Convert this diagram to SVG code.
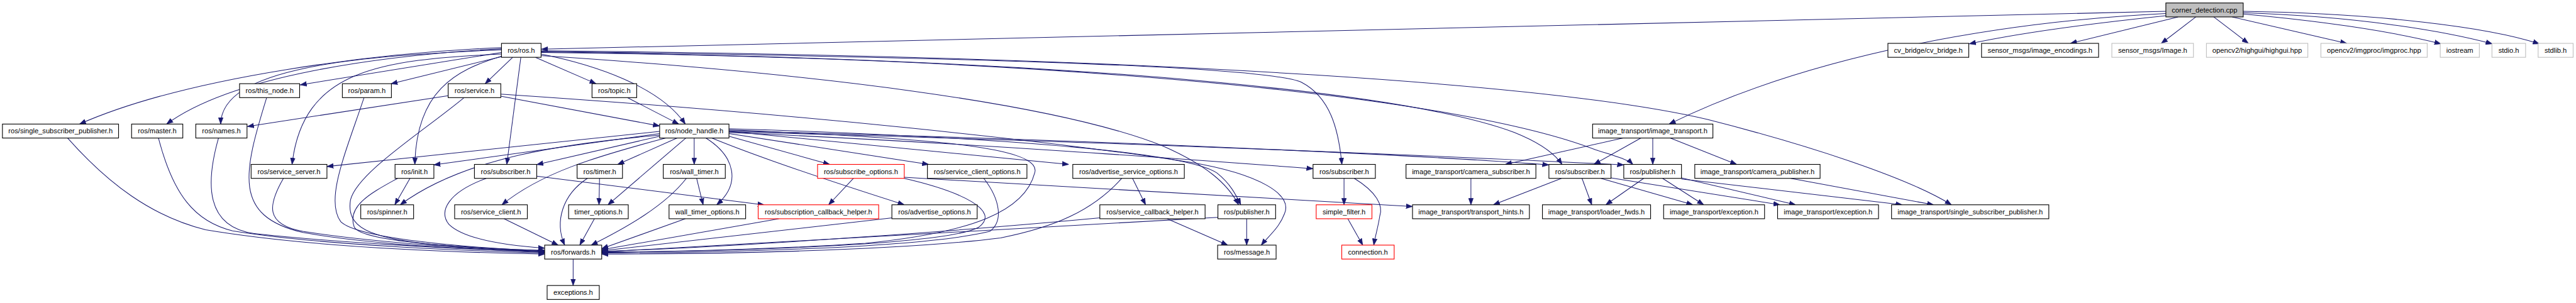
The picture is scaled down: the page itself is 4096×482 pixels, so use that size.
<svg xmlns="http://www.w3.org/2000/svg" width="4096" height="482" viewBox="0 0 4096 482">
<style>
.n rect{fill:#fff;stroke:#000;stroke-width:1.3}
.n.r rect{stroke:#ff0000}
.n.g rect{stroke:#bfbfbf}
.n.c rect{fill:#bfbfbf}
.n text{font-family:"Liberation Sans",Arial,sans-serif;font-size:13px;text-anchor:middle;fill:#000}
.e path{fill:none;stroke:#191970;stroke-width:1.2;marker-end:url(#a)}
</style>
<defs>
<marker id="a" markerWidth="12" markerHeight="10" refX="12" refY="5" orient="auto" markerUnits="userSpaceOnUse">
<path d="M0,0.6 L12,5 L0,9.4 z" fill="#191970" stroke="#191970" stroke-width="0.8"/>
</marker>
</defs>
<rect width="4096" height="482" fill="#fff"/>
<g transform="scale(0.86)">
<g id="edges" class="e">
<path d="M4004.5,21 L1001,91"/>
<path d="M4004.5,25 C3700,40 3350,100 3086,229.5"/>
<path d="M4004.5,29 C3850,45 3720,64 3641,81"/>
<path d="M4027,31.3 L3828,80.2"/>
<path d="M4060,31.3 L3996,80.2"/>
<path d="M4093,31.3 L4157,80.2"/>
<path d="M4127,31.3 L4339,80.2"/>
<path d="M4147.5,26 C4300,40 4430,60 4513,81"/>
<path d="M4147.5,23.5 C4350,30 4510,55 4608,81"/>
<path d="M4147.5,21 C4400,25 4600,50 4695,81"/>
<path d="M927.2,88 C700,98 350,140 147,229.5"/>
<path d="M927.2,90 C700,103 430,140 308,229.5"/>
<path d="M927.2,92 C650,104 410,125 408,229.5"/>
<path d="M927.2,97 L555,157"/>
<path d="M927.2,100 C700,110 560,130 540,304.1"/>
<path d="M930,104 L723,155"/>
<path d="M948,106 L897,154.8"/>
<path d="M963,106 L937,304.1"/>
<path d="M927.2,104 C840,130 770,170 767,304.1"/>
<path d="M990,106 L1102,154.8"/>
<path d="M1000.4,100 C1100,120 1220,160 1267,229.5"/>
<path d="M1000.4,103 C1500,135 1950,190 2150,270 C2230,305 2270,340 2290,378.8"/>
<path d="M1000.4,95 C1700,105 2330,120 2406,152 C2460,180 2475,240 2481,304.1"/>
<path d="M1000.4,96 C2000,110 2600,170 2800,245 C2850,265 2875,285 2888,304.1"/>
<path d="M1000.4,97 C2000,108 2700,180 2950,277 C2990,290 3010,295 3019,304.1"/>
<path d="M1000.4,94 C2200,105 2900,160 3157,221 C3350,270 3530,330 3608,378.8"/>
<path d="M828.6,177 L457.5,234"/>
<path d="M925.9,178 L1219.6,233"/>
<path d="M858,180.6 C780,245 660,320 648,370 C640,420 680,440 800,452 C900,460 960,463 1007,465"/>
<path d="M925.9,174 C1500,212 1950,262 2200,300 C2330,322 2390,360 2375,395 C2365,422 2345,437 2332,453.4"/>
<path d="M1160,180.6 L1255,229.5"/>
<path d="M493,180.6 C450,320 430,400 560,430 C700,455 900,462 1007,466"/>
<path d="M673,180.6 C640,280 600,370 630,410 C660,440 850,458 1007,464"/>
<path d="M404,255.3 C380,340 380,420 470,432 C650,452 900,462 1007,467"/>
<path d="M293,255.3 C320,360 360,410 430,427 C600,455 900,465 1007,468"/>
<path d="M125,255.3 C200,340 280,400 380,425 C600,462 900,468 1007,470"/>
<path d="M524,329.9 C495,380 490,415 560,428 C700,450 900,462 1007,465"/>
<path d="M758,329.9 L730,378.8"/>
<path d="M735,329.9 C690,355 640,380 655,420 C670,450 900,460 1007,463"/>
<path d="M1219.6,243 L604.5,308"/>
<path d="M1219.6,247 L802.2,305"/>
<path d="M1219.6,250 C1050,265 860,290 740,378.8"/>
<path d="M1219.6,252 L992.4,304.5"/>
<path d="M1231,255.3 C1100,290 1000,320 928,378.8"/>
<path d="M1252,255.3 L1142,304.1"/>
<path d="M1268,255.3 L1124,378.8"/>
<path d="M1283.5,255.3 L1283.5,304.1"/>
<path d="M1305,255.3 C1360,290 1370,340 1325,378.8"/>
<path d="M1316,255.3 C1400,290 1550,340 1672,378.8"/>
<path d="M1347.8,252 L1534,304.1"/>
<path d="M1347.8,247 L1717,304.1"/>
<path d="M1347.8,243 L1976,304.1"/>
<path d="M1347.8,240 C1700,255 1930,270 1913,320 C1895,390 1800,430 1600,450 C1400,463 1200,466 1112.5,467"/>
<path d="M1347.8,238 C1900,255 2200,285 2250,320 C2275,340 2285,360 2294,378.8"/>
<path d="M1347.8,245 C1800,265 2200,295 2427.7,312"/>
<path d="M1347.8,242 C2000,258 2600,285 2863.8,305"/>
<path d="M1347.8,244 C2000,260 2700,290 3002.2,305"/>
<path d="M899,329.9 C830,355 810,390 830,415 C860,445 950,455 1007,459"/>
<path d="M992.4,326 L1413,379"/>
<path d="M1108.5,329.9 L1107.5,378.8"/>
<path d="M1086,329.9 C1040,360 1025,410 1044,453.4"/>
<path d="M932,404.6 L1032,453.4"/>
<path d="M1099,404.6 L1072,453.4"/>
<path d="M1288,329.9 L1300,378.8"/>
<path d="M1269,329.9 C1230,380 1160,420 1093,453.4"/>
<path d="M1267,404.6 L1112.5,460"/>
<path d="M1578,329.9 L1532,378.8"/>
<path d="M1671.9,330 C1780,355 1850,390 1810,420 C1750,455 1300,466 1112.5,466"/>
<path d="M1671.9,328 L2611.6,382"/>
<path d="M1819,329.9 C1850,370 1855,410 1830,428 C1700,460 1300,468 1112.5,468"/>
<path d="M2094,329.9 L2118,378.8"/>
<path d="M2074,329.9 C2020,390 1950,420 1850,440 C1650,465 1300,470 1112.5,470"/>
<path d="M1440,404.6 L1112.5,462"/>
<path d="M1650,403 L1112.5,464"/>
<path d="M2034,403 C1800,425 1400,455 1112.5,465"/>
<path d="M2158,404.6 L2270,453.4"/>
<path d="M2252,402 L1112.5,466"/>
<path d="M2305,404.6 L2305,453.4"/>
<path d="M2485,329.9 L2485,378.8"/>
<path d="M2504,329.9 C2545,355 2558,380 2551,400 C2548,420 2543,435 2540,453.4"/>
<path d="M2492,404.6 L2519.6,453.4"/>
<path d="M2719.6,329.9 L2719.6,378.8"/>
<path d="M3001,255.3 L2783,304.1"/>
<path d="M3034,255.3 L2947,304.1"/>
<path d="M3055.8,255.3 L3055.8,304.1"/>
<path d="M3088,255.3 L3211,304.1"/>
<path d="M2887,329.9 L2761,378.8"/>
<path d="M2925,329.9 L2943,378.8"/>
<path d="M2960,329.9 L3130,378.8"/>
<path d="M2978.6,329 L3291,378.8"/>
<path d="M3039,329.9 L2969,378.8"/>
<path d="M3074,329.9 L3150,378.8"/>
<path d="M3108.9,329 L3320,378.8"/>
<path d="M3108.9,331 L3517,378.8"/>
<path d="M3311,329.9 L3575,378.8"/>
<path d="M1059.7,479.2 L1059.7,528.1"/>
</g>
<g id="n0" class="n c"><rect x="4004.5" y="5.5" width="143" height="25.8"/><text x="4076" y="23">corner_detection.cpp</text></g>
<g id="n1" class="n"><rect x="927.2" y="80.2" width="73.2" height="25.8"/><text x="963.8" y="97.7">ros/ros.h</text></g>
<g id="n2" class="n"><rect x="3490.6" y="80.2" width="149.5" height="25.8"/><text x="3565.35" y="97.7">cv_bridge/cv_bridge.h</text></g>
<g id="n3" class="n"><rect x="3663.7" y="80.2" width="216.4" height="25.8"/><text x="3771.9" y="97.7">sensor_msgs/image_encodings.h</text></g>
<g id="n4" class="n g"><rect x="3904.6" y="80.2" width="150.9" height="25.8"/><text x="3980.05" y="97.7">sensor_msgs/Image.h</text></g>
<g id="n5" class="n g"><rect x="4079.5" y="80.2" width="187.5" height="25.8"/><text x="4173.25" y="97.7">opencv2/highgui/highgui.hpp</text></g>
<g id="n6" class="n g"><rect x="4291.1" y="80.2" width="196.6" height="25.8"/><text x="4389.4" y="97.7">opencv2/imgproc/imgproc.hpp</text></g>
<g id="n7" class="n g"><rect x="4511.8" y="80.2" width="72.3" height="25.8"/><text x="4547.95" y="97.7">iostream</text></g>
<g id="n8" class="n g"><rect x="4607.4" y="80.2" width="62.2" height="25.8"/><text x="4638.5" y="97.7">stdio.h</text></g>
<g id="n9" class="n g"><rect x="4692.8" y="80.2" width="64.7" height="25.8"/><text x="4725.15" y="97.7">stdlib.h</text></g>
<g id="n10" class="n"><rect x="442.9" y="154.8" width="111.1" height="25.8"/><text x="498.45" y="172.3">ros/this_node.h</text></g>
<g id="n11" class="n"><rect x="633" y="154.8" width="90.7" height="25.8"/><text x="678.35" y="172.3">ros/param.h</text></g>
<g id="n12" class="n"><rect x="828.6" y="154.8" width="97.3" height="25.8"/><text x="877.25" y="172.3">ros/service.h</text></g>
<g id="n13" class="n"><rect x="1094.6" y="154.8" width="82.6" height="25.8"/><text x="1135.9" y="172.3">ros/topic.h</text></g>
<g id="n14" class="n"><rect x="4.5" y="229.5" width="214.7" height="25.8"/><text x="111.85" y="247">ros/single_subscriber_publisher.h</text></g>
<g id="n15" class="n"><rect x="243.3" y="229.5" width="94.7" height="25.8"/><text x="290.65" y="247">ros/master.h</text></g>
<g id="n16" class="n"><rect x="362" y="229.5" width="94.7" height="25.8"/><text x="409.35" y="247">ros/names.h</text></g>
<g id="n17" class="n"><rect x="1219.6" y="229.5" width="128.2" height="25.8"/><text x="1283.7" y="247">ros/node_handle.h</text></g>
<g id="n18" class="n"><rect x="2944.6" y="229.5" width="222.4" height="25.8"/><text x="3055.8" y="247">image_transport/image_transport.h</text></g>
<g id="n19" class="n"><rect x="464.3" y="304.1" width="140.2" height="25.8"/><text x="534.4" y="321.6">ros/service_server.h</text></g>
<g id="n20" class="n"><rect x="730.4" y="304.1" width="71.8" height="25.8"/><text x="766.3" y="321.6">ros/init.h</text></g>
<g id="n21" class="n"><rect x="877.2" y="304.1" width="115.2" height="25.8"/><text x="934.8" y="321.6">ros/subscriber.h</text></g>
<g id="n22" class="n"><rect x="1067" y="304.1" width="83.9" height="25.8"/><text x="1108.95" y="321.6">ros/timer.h</text></g>
<g id="n23" class="n"><rect x="1226.3" y="304.1" width="114.7" height="25.8"/><text x="1283.65" y="321.6">ros/wall_timer.h</text></g>
<g id="n24" class="n r"><rect x="1511.6" y="304.1" width="160.3" height="25.8"/><text x="1591.75" y="321.6">ros/subscribe_options.h</text></g>
<g id="n25" class="n"><rect x="1714.7" y="304.1" width="184" height="25.8"/><text x="1806.7" y="321.6">ros/service_client_options.h</text></g>
<g id="n26" class="n"><rect x="1983.5" y="304.1" width="206.2" height="25.8"/><text x="2086.6" y="321.6">ros/advertise_service_options.h</text></g>
<g id="n27" class="n"><rect x="2427.7" y="304.1" width="115.2" height="25.8"/><text x="2485.3" y="321.6">ros/subscriber.h</text></g>
<g id="n28" class="n"><rect x="2599.6" y="304.1" width="240.1" height="25.8"/><text x="2719.65" y="321.6">image_transport/camera_subscriber.h</text></g>
<g id="n29" class="n"><rect x="2863.8" y="304.1" width="114.8" height="25.8"/><text x="2921.2" y="321.6">ros/subscriber.h</text></g>
<g id="n30" class="n"><rect x="3002.2" y="304.1" width="106.7" height="25.8"/><text x="3055.55" y="321.6">ros/publisher.h</text></g>
<g id="n31" class="n"><rect x="3133.5" y="304.1" width="231.7" height="25.8"/><text x="3249.35" y="321.6">image_transport/camera_publisher.h</text></g>
<g id="n32" class="n"><rect x="667" y="378.8" width="97.7" height="25.8"/><text x="715.85" y="396.3">ros/spinner.h</text></g>
<g id="n33" class="n"><rect x="840.6" y="378.8" width="134.4" height="25.8"/><text x="907.8" y="396.3">ros/service_client.h</text></g>
<g id="n34" class="n"><rect x="1051.3" y="378.8" width="110.3" height="25.8"/><text x="1106.45" y="396.3">timer_options.h</text></g>
<g id="n35" class="n"><rect x="1237" y="378.8" width="141.6" height="25.8"/><text x="1307.8" y="396.3">wall_timer_options.h</text></g>
<g id="n36" class="n r"><rect x="1401.8" y="378.8" width="222.8" height="25.8"/><text x="1513.2" y="396.3">ros/subscription_callback_helper.h</text></g>
<g id="n37" class="n"><rect x="1649" y="378.8" width="157.7" height="25.8"/><text x="1727.85" y="396.3">ros/advertise_options.h</text></g>
<g id="n38" class="n"><rect x="2033.5" y="378.8" width="194.6" height="25.8"/><text x="2130.8" y="396.3">ros/service_callback_helper.h</text></g>
<g id="n39" class="n"><rect x="2251.8" y="378.8" width="106.7" height="25.8"/><text x="2305.15" y="396.3">ros/publisher.h</text></g>
<g id="n40" class="n r"><rect x="2433.5" y="378.8" width="103.1" height="25.8"/><text x="2485.05" y="396.3">simple_filter.h</text></g>
<g id="n41" class="n"><rect x="2611.6" y="378.8" width="216.1" height="25.8"/><text x="2719.65" y="396.3">image_transport/transport_hints.h</text></g>
<g id="n42" class="n"><rect x="2851.8" y="378.8" width="200" height="25.8"/><text x="2951.8" y="396.3">image_transport/loader_fwds.h</text></g>
<g id="n43" class="n"><rect x="3075.9" y="378.8" width="186.6" height="25.8"/><text x="3169.2" y="396.3">image_transport/exception.h</text></g>
<g id="n44" class="n"><rect x="3286.6" y="378.8" width="186.6" height="25.8"/><text x="3379.9" y="396.3">image_transport/exception.h</text></g>
<g id="n45" class="n"><rect x="3497.3" y="378.8" width="290.8" height="25.8"/><text x="3642.7" y="396.3">image_transport/single_subscriber_publisher.h</text></g>
<g id="n46" class="n"><rect x="1007" y="453.4" width="105.5" height="25.8"/><text x="1059.75" y="470.9">ros/forwards.h</text></g>
<g id="n47" class="n"><rect x="2251.3" y="453.4" width="108.1" height="25.8"/><text x="2305.35" y="470.9">ros/message.h</text></g>
<g id="n48" class="n r"><rect x="2480.8" y="453.4" width="96.9" height="25.8"/><text x="2529.25" y="470.9">connection.h</text></g>
<g id="n49" class="n"><rect x="1011.6" y="528.1" width="96.4" height="25.8"/><text x="1059.8" y="545.6">exceptions.h</text></g>
</g>
</svg>
